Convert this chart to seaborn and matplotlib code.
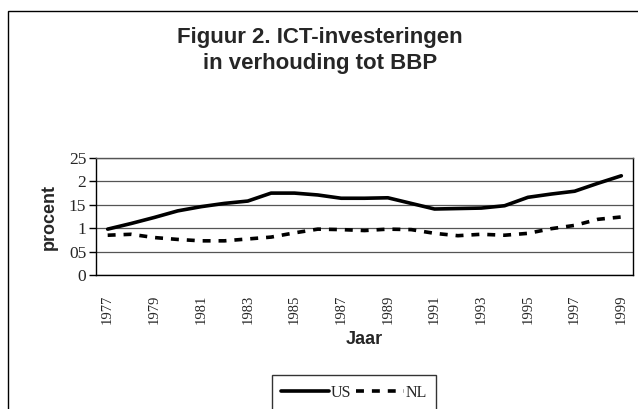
import pandas as pd
import matplotlib
matplotlib.use("Agg")
import matplotlib.pyplot as plt
import seaborn as sns
from matplotlib.patches import Rectangle

# data
years = list(range(1977, 2000))
us = [0.98, 1.10, 1.23, 1.37, 1.46, 1.53, 1.58, 1.75, 1.75, 1.71, 1.64, 1.64,
      1.65, 1.53, 1.41, 1.42, 1.43, 1.48, 1.66, 1.73, 1.79, 1.96, 2.12]
nl = [0.85, 0.87, 0.80, 0.76, 0.73, 0.73, 0.77, 0.81, 0.90, 0.98, 0.97, 0.95,
      0.98, 0.97, 0.89, 0.84, 0.87, 0.85, 0.89, 0.99, 1.06, 1.19, 1.24]
ytick_vals = [0, 0.5, 1, 1.5, 2, 2.5]
ytick_labels = ["0", "05", "1", "15", "2", "25"]

df = pd.DataFrame({"pos": range(len(years)), "US": us, "NL": nl})

sns.set_style("white")
plt.rcParams["font.family"] = ["Liberation Sans", "DejaVu Sans"]

fig = plt.figure(figsize=(6.38, 4.09), dpi=100)
ax = fig.add_axes([96 / 638, 1 - 275 / 409, (633 - 96) / 638, (275 - 158) / 409])

sns.lineplot(data=df, x="pos", y="US", ax=ax, color="black", lw=2.6, label="US")
sns.lineplot(data=df, x="pos", y="NL", ax=ax, color="black", lw=2.6,
             dashes=False, label="NL", linestyle=(0, (2.2, 2.2)))

ax.set_xlim(-0.5, len(years) - 0.5)
ax.set_ylim(0, 2.5)
ax.set_yticks(ytick_vals)
ax.set_yticklabels(ytick_labels, fontfamily="Liberation Serif", fontsize=12.5)
ax.yaxis.grid(True, color="#555555", lw=0.9)
ax.set_axisbelow(True)

lbl_pos = list(range(0, len(years), 2))
ax.set_xticks(lbl_pos)
ax.set_xticklabels([str(years[i]) for i in lbl_pos], rotation=90,
                   fontfamily="Liberation Serif", fontsize=10.5)
ax.set_xticks([i - 0.5 for i in range(len(years) + 1)], minor=True)
ax.tick_params(axis="x", which="major", length=0, pad=14)
ax.tick_params(axis="x", which="minor", length=5, width=1, direction="out", color="black")
ax.tick_params(axis="y", length=5, width=1, direction="out", color="black", left=True, pad=2)

for s in ax.spines.values():
    s.set_color("black")
    s.set_linewidth(1)
ax.spines["top"].set_color("#555555")

ax.set_xlabel("Jaar", fontsize=13, fontweight="bold", labelpad=5)
ax.set_ylabel("procent", fontsize=13, fontweight="bold", labelpad=8)

fig.text(320 / 638, 1 - 38 / 409, "Figuur 2. ICT-investeringen", ha="center", va="center",
         fontsize=16, fontweight="bold")
fig.text(320 / 638, 1 - 64 / 409, "in verhouding tot BBP", ha="center", va="center",
         fontsize=16, fontweight="bold")

ax.legend(loc="center", bbox_to_anchor=(354 / 638, 1 - 393 / 409),
          bbox_transform=fig.transFigure, ncol=2, frameon=True, fancybox=False,
          edgecolor="black", handlelength=3.0, columnspacing=0.3, handletextpad=0.1,
          borderpad=0.6, prop={"family": "Liberation Serif", "size": 11.5})

fig.patches.append(Rectangle((8 / 638, -0.05), 1.1, 1 - 11 / 409 + 0.05,
                             transform=fig.transFigure, fill=False,
                             edgecolor="black", lw=1))

fig.savefig("out.png", dpi=100)
